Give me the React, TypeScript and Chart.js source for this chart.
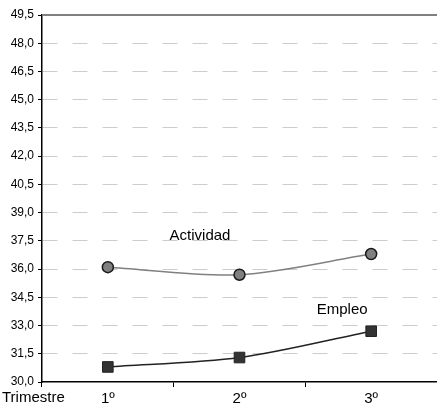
import React, { useEffect, useRef } from "react";
import { Chart, registerables } from "chart.js";

Chart.register(...registerables);

const categories = ["1º", "2º", "3º"];
const actividad = [36.1, 35.7, 36.8];
const empleo = [30.8, 31.3, 32.7];
const yMin = 30;
const yMax = 49.5;
const yStep = 1.5;
const axisTitle = "Trimestre";
const seriesLabels = [
  { text: "Actividad", x: 0.7, y: 37.75 },
  { text: "Empleo", x: 1.78, y: 33.85 },
];

const FONT = "'Liberation Sans', Arial, sans-serif";

export default function App() {
  const ref = useRef<HTMLCanvasElement | null>(null);

  useEffect(() => {
    document.body.style.margin = "0";
    const canvas = ref.current;
    if (!canvas) return;

    const overlay = {
      id: "overlay",
      afterDraw(chart: any) {
        const { ctx, chartArea, scales } = chart;
        const xs = scales.x;
        const ys = scales.y;
        ctx.save();
        ctx.strokeStyle = "#808080";
        ctx.lineWidth = 2;
        ctx.beginPath();
        ctx.moveTo(chartArea.left, ys.getPixelForValue(yMax));
        ctx.lineTo(chartArea.right, ys.getPixelForValue(yMax));
        ctx.stroke();
        ctx.fillStyle = "#000";
        ctx.font = `15px ${FONT}`;
        ctx.textAlign = "left";
        ctx.textBaseline = "middle";
        ctx.fillText(axisTitle, 2, xs.top + 16);
        ctx.textAlign = "center";
        for (const l of seriesLabels) {
          ctx.fillText(l.text, xs.getPixelForValue(l.x), ys.getPixelForValue(l.y));
        }
        ctx.restore();
      },
    };

    const chart = new Chart(canvas, {
      type: "line",
      data: {
        labels: categories,
        datasets: [
          {
            label: "Actividad",
            data: actividad,
            borderColor: "#808080",
            borderWidth: 1.5,
            pointStyle: "circle",
            pointRadius: 5.5,
            pointBackgroundColor: "#808080",
            pointBorderColor: "#1a1a1a",
            pointBorderWidth: 1.5,
            tension: 0.3,
          },
          {
            label: "Empleo",
            data: empleo,
            borderColor: "#222222",
            borderWidth: 1.5,
            pointStyle: "rect",
            pointRadius: 7.5,
            pointBackgroundColor: "#333333",
            pointBorderColor: "#222222",
            pointBorderWidth: 1,
            tension: 0.3,
          },
        ],
      },
      options: {
        animation: false,
        responsive: true,
        maintainAspectRatio: false,
        layout: { autoPadding: false, padding: { top: 15, left: 0, right: 0, bottom: 0 } },
        plugins: {
          legend: { display: false },
          tooltip: { enabled: false },
        },
        scales: {
          x: {
            type: "category",
            offset: true,
            grid: {
              offset: true,
              drawOnChartArea: false,
              drawTicks: true,
              tickLength: 5,
              tickColor: "#000",
              tickWidth: 1,
            },
            border: { color: "#000", width: 1.5 },
            ticks: {
              color: "#000",
              font: { family: FONT, size: 15 },
              padding: 3,
              maxRotation: 0,
            },
            afterFit(scale: any) {
              scale.height = 30;
              scale.paddingLeft = 0;
              scale.paddingRight = 0;
            },
          },
          y: {
            min: yMin,
            max: yMax,
            grid: {
              color: (ctx: any) =>
                ctx.tick && (ctx.tick.value === yMin || ctx.tick.value === yMax)
                  ? "rgba(0,0,0,0)"
                  : "#cccccc",
              lineWidth: 1,
              drawTicks: true,
              tickLength: 4,
              tickColor: "#000",
              tickWidth: 1,
              tickBorderDash: [],
            },
            border: { color: "#000", width: 1.5, dash: [15, 15] },
            ticks: {
              stepSize: yStep,
              color: "#000",
              padding: 4,
              font: { family: FONT, size: 12 },
              callback: (v: any) => Number(v).toFixed(1).replace(".", ","),
            },
            afterFit(scale: any) {
              scale.width = 42;
              scale.paddingTop = 0;
              scale.paddingBottom = 0;
            },
          },
        },
      } as any,
      plugins: [overlay],
    });

    return () => chart.destroy();
  }, []);

  return (
    <div style={{ position: "relative", width: 437, height: 412 }}>
      <canvas ref={ref} />
    </div>
  );
}
